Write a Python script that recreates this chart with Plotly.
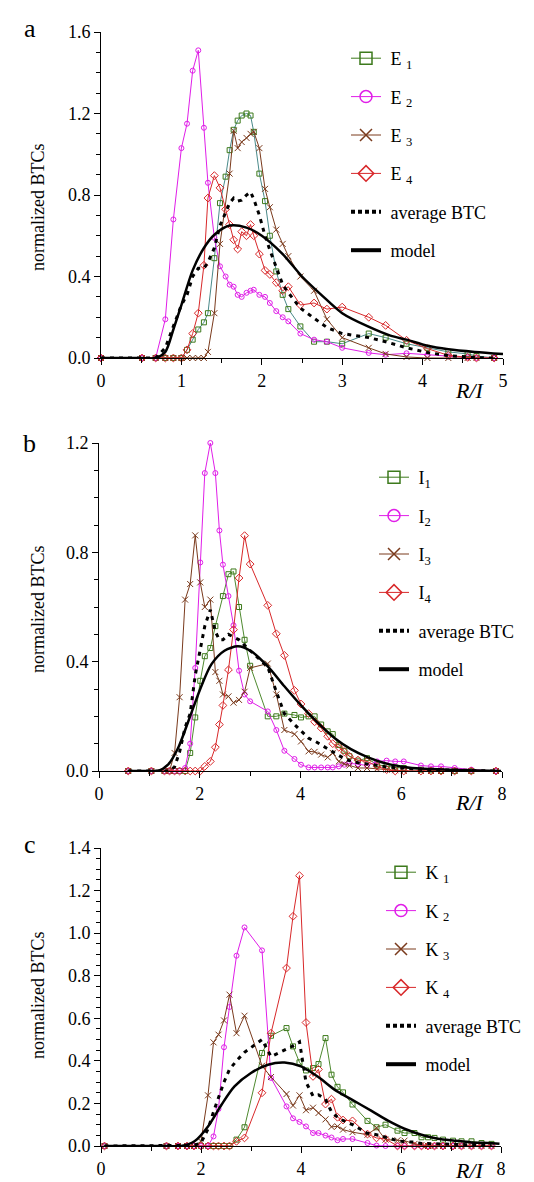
import plotly.graph_objects as go

W, H = 534, 1182
FONT = "Liberation Serif, Times New Roman, serif"

# ---------------- panel a ----------------
XA = [0, 0.51, 0.68, 0.80, 0.90, 1.00, 1.07, 1.14, 1.21, 1.28, 1.33, 1.41, 1.48, 1.55, 1.60, 1.65,
      1.70, 1.75, 1.81, 1.86, 1.90, 1.97, 2.04, 2.10, 2.18, 2.26, 2.33, 2.48, 2.65, 2.81, 3.00,
      3.33, 3.54, 3.80, 4.06, 4.32, 4.56, 4.67, 4.89]
E1 = [0, 0, 0, 0, 0, 0, 0.04, 0.09, 0.14, 0.175, 0.22, 0.49, 0.76, 0.89, 1.02, 1.12,
      1.165, 1.19, 1.20, 1.19, 1.11, 0.905, 0.77, 0.60, 0.425, 0.31, 0.24, 0.155, 0.08, 0.08, 0.07,
      0.12, 0.10, 0.07, 0.05, 0.03, 0.02, 0.01, 0]
E2 = [0, 0, 0, 0.19, 0.68, 1.03, 1.15, 1.41, 1.51, 1.13, 0.86, 0.59, 0.45, 0.40, 0.36, 0.35,
      0.31, 0.30, 0.32, 0.33, 0.335, 0.31, 0.30, 0.27, 0.23, 0.20, 0.18, 0.12, 0.09, 0.08, 0.05,
      0.025, 0.016, 0.023, 0.016, 0.008, 0.003, 0, 0]
E3 = [0, 0, 0, 0, 0, 0, 0, 0, 0, 0, 0.03, 0.22, 0.56, None, 0.905, 1.115,
      1.03, 1.06, 1.08, 1.10, 1.11, 1.03, 0.83, 0.74, 0.63, 0.56, 0.50, 0.40, 0.33, 0.19, 0.10,
      0.05, 0.02, 0.005, 0, 0, 0, 0, 0]
E4 = [0, 0, 0, 0, 0, 0, 0.04, 0.12, 0.22, 0.455, 0.785, 0.895, 0.835, 0.73, 0.655, 0.58,
      0.535, 0.62, 0.60, 0.655, 0.60, 0.51, 0.43, 0.41, 0.37, 0.33, 0.35, 0.26, 0.27, 0.24, 0.25,
      0.20, 0.16, 0.087, 0.046, 0.013, 0.003, 0, 0]
AVG_A = [0, 0, 0, 0.05, 0.16, 0.26, 0.31, 0.40, 0.44, 0.44, 0.47, 0.54, 0.65, 0.72, 0.76, 0.785,
         0.77, 0.775, 0.80, 0.815, 0.78, 0.70, 0.60, 0.53, 0.44, 0.36, 0.32, 0.245, 0.195, 0.15, 0.12,
         0.10, 0.08, 0.05, 0.027, 0.012, 0.005, 0.002, 0]
MODEL_A_X = [0, 0.5, 0.68, 0.80, 0.90, 1.0, 1.14, 1.28, 1.41, 1.6, 1.81, 2.0, 2.26, 2.5, 2.74,
             3.0, 3.32, 3.6, 3.8, 4.06, 4.32, 4.65, 5.0]
MODEL_A = [0, 0, 0, 0.03, 0.14, 0.26, 0.43, 0.54, 0.605, 0.65, 0.64, 0.60, 0.51, 0.40, 0.31,
           0.22, 0.155, 0.11, 0.09, 0.06, 0.043, 0.03, 0.02]

# ---------------- panel b ----------------
XB = [0.58, 1.04, 1.30, 1.40, 1.50, 1.60, 1.71, 1.81, 1.91, 2.01, 2.10, 2.21, 2.31, 2.39, 2.46,
      2.57, 2.67, 2.78, 2.89, 3.00, 3.35, 3.52, 3.68, 3.88, 4.01, 4.16, 4.28, 4.41, 4.54, 4.64,
      4.76, 4.87, 4.97, 5.14, 5.32, 5.52, 5.71, 5.88, 6.05, 6.39, 6.59, 6.79, 7.06, 7.39, 7.88]
I1 = [0, 0, 0, 0, 0, 0, 0, 0.066, 0.196, 0.33, 0.42, 0.45, 0.53, None, 0.64,
      0.72, 0.73, 0.60, 0.48, 0.385, 0.20, 0.20, 0.21, 0.205, 0.196, 0.20, 0.20, 0.17, 0.145, 0.135,
      0.095, 0.074, 0.054, 0.038, 0.047, 0.023, 0.017, 0.013, 0.011, 0.005, 0.002, 0, 0, 0, 0]
I2 = [0, 0, 0, 0, 0, 0, 0.011, 0.10, 0.377, 0.763, 1.09, 1.20, 1.09, 0.88, 0.755,
      0.64, 0.533, 0.367, 0.28, 0.255, 0.218, 0.15, 0.074, 0.044, 0.023, 0.013, 0.013, 0.013, 0.013, 0.013,
      0.017, 0.023, 0.028, 0.025, 0.02, 0.035, 0.038, 0.035, 0.035, 0.02, 0.017, 0.017, 0.011, 0.005, 0]
I3 = [0, 0, 0, 0, 0.066, 0.27, 0.627, 0.684, 0.862, 0.69, 0.60, 0.627, 0.362, 0.33, 0.28,
      0.273, 0.25, 0.26, 0.29, 0.377, 0.393, 0.28, 0.15, 0.135, 0.108, 0.072, 0.07, 0.06, 0.05, 0.066,
      0.035, 0.026, 0.02, 0.011, 0.011, 0.008, 0.005, 0.003, 0, 0, 0, 0, 0, 0, 0]
I4 = [0, 0, 0, 0, 0, 0, 0, 0, 0, 0, 0.017, 0.035, 0.087, 0.17, 0.24,
      0.37, 0.517, 0.706, 0.861, 0.757, 0.606, 0.502, 0.423, 0.295, 0.245, 0.21, 0.18, 0.157, 0.127, 0.10,
      0.087, 0.07, 0.054, 0.04, 0.035, 0.017, 0.005, 0, 0, 0, 0, 0, 0, 0, 0]
AVG_B = [0, 0, 0, 0, 0.015, 0.07, 0.16, 0.21, 0.35, 0.45, 0.53, 0.59, 0.51, 0.48, 0.48,
         0.50, 0.49, 0.48, 0.46, 0.44, 0.38, 0.29, 0.21, 0.17, 0.145, 0.12, 0.11, 0.095, 0.08, 0.07,
         0.055, 0.045, 0.038, 0.03, 0.026, 0.02, 0.015, 0.012, 0.011, 0.006, 0.005, 0.004, 0.003, 0.001, 0]
MODEL_B_X = [0.58, 1.04, 1.17, 1.37, 1.57, 1.77, 2.01, 2.23, 2.49, 2.76, 3.02, 3.35, 3.68, 4.01,
             4.35, 4.68, 5.0, 5.34, 5.73, 6.06, 6.39, 7.06, 7.98]
MODEL_B = [0, 0, 0, 0.023, 0.084, 0.18, 0.30, 0.39, 0.44, 0.456, 0.438, 0.383, 0.31, 0.24,
           0.175, 0.12, 0.08, 0.05, 0.026, 0.015, 0.009, 0.004, 0]

# ---------------- panel c ----------------
XC = [0.07, 1.31, 1.54, 1.72, 1.86, 2.00, 2.14, 2.25, 2.35, 2.46, 2.57, 2.71, 2.87, 3.22, 3.40,
      3.71, 3.84, 3.97, 4.10, 4.24, 4.35, 4.49, 4.61, 4.73, 4.84, 5.03, 5.33, 5.51, 5.69, 5.93,
      6.07, 6.27, 6.41, 6.54, 6.67, 6.84, 7.04, 7.21, 7.41, 7.61, 7.81]
K1 = [0, 0, 0, 0, 0, 0, 0, 0, 0, 0, 0, 0.03, 0.088, 0.437, 0.518,
      0.554, 0.468, 0.393, 0.355, 0.366, 0.385, 0.507, 0.335, 0.278, 0.252, 0.195, 0.118, 0.088, 0.10, 0.072,
      0.061, 0.061, 0.041, 0.041, 0.038, 0.03, 0.025, 0.022, 0.022, 0.014, 0.01]
K2 = [0, 0, 0, 0, 0, 0, 0, 0.045, 0.174, 0.464, 0.653, 0.894, 1.027, 0.919, 0.32,
      0.186, 0.13, 0.113, 0.092, 0.061, 0.061, 0.049, 0.04, 0.027, 0.033, 0.033, 0.014, 0.002, 0, 0,
      0, 0, 0, 0, 0, 0, 0, 0, 0, 0, 0]
K3 = [0, 0, 0, 0, 0, 0.022, 0.238, 0.487, 0.523, 0.59, 0.711, 0.53, 0.612, 0.377, 0.324,
      0.244, 0.19, 0.238, 0.168, 0.18, 0.155, 0.125, 0.09, 0.092, 0.077, 0.065, 0.053, 0.085, 0.03, 0.027,
      0.025, 0.01, 0.005, 0, 0, 0, 0, 0, 0, 0, 0]
K4 = [0, 0, 0, 0, 0, 0, 0, 0, 0, 0, 0, 0.022, 0.038, 0.25, 0.53,
      0.836, 1.079, 1.27, 0.58, 0.327, 0.36, 0.197, 0.22, 0.135, 0.122, 0.118, 0.056, 0.038, 0.033, 0,
      0, 0, 0, 0, 0, 0, 0, 0, 0, 0, 0]
AVG_C = [0, 0, 0, 0, 0.003, 0.015, 0.08, 0.16, 0.23, 0.30, 0.36, 0.40, 0.44, 0.50, 0.42,
         0.455, 0.47, 0.49, 0.30, 0.235, 0.24, 0.22, 0.16, 0.135, 0.12, 0.10, 0.06, 0.053, 0.04, 0.025,
         0.02, 0.018, 0.012, 0.011, 0.01, 0.008, 0.006, 0.005, 0.005, 0.004, 0.003]
MODEL_C_X = [0.07, 1.31, 1.6, 1.87, 2.14, 2.41, 2.67, 3.0, 3.34, 3.67, 4.0, 4.34, 4.67, 5.0,
             5.41, 5.74, 6.07, 6.41, 6.74, 7.07, 7.41, 7.74, 7.97]
MODEL_C = [0, 0, 0, 0.022, 0.092, 0.194, 0.28, 0.343, 0.382, 0.392, 0.374, 0.325, 0.265, 0.22,
           0.165, 0.119, 0.081, 0.053, 0.034, 0.025, 0.017, 0.014, 0.011]

# ---------------- styles ----------------
GREEN = "#3d7a1c"
GREEN_LINE_A = "#4a8a8a"
GREEN_LINE = "#4f8a30"
MAGENTA = "#e01ee8"
BROWN = "#7a3a1c"
RED = "#d8282a"

SERIES_STYLE = [
    dict(color=GREEN, symbol="square-open", size=5),
    dict(color=MAGENTA, symbol="circle-open", size=5),
    dict(color=BROWN, symbol="x-thin-open", size=6),
    dict(color=RED, symbol="diamond-open", size=6),
]

PANELS = [
    dict(tag="a", ax="", x=XA, ys=[E1, E2, E3, E4], avg=AVG_A, mx=MODEL_A_X, my=MODEL_A,
         names=["E <sub>1</sub>", "E <sub>2</sub>", "E <sub>3</sub>", "E <sub>4</sub>"],
         xr=[0, 5], xd=1, xm=0.5, yr=[0, 1.6], yd=0.4, ym=0.1,
         top=24, bottom=350, left=93, right=495, leg_x=338, leg_y=32, lbl_y=20, yt_y=200,
         rl_y=382, line0=GREEN_LINE_A),
    dict(tag="b", ax="2", x=XB, ys=[I1, I2, I3, I4], avg=AVG_B, mx=MODEL_B_X, my=MODEL_B,
         names=["I<sub>1</sub>", "I<sub>2</sub>", "I<sub>3</sub>", "I<sub>4</sub>"],
         xr=[0, 8], xd=2, xm=1, yr=[0, 1.2], yd=0.4, ym=0.1,
         top=435, bottom=763, left=91, right=494, leg_x=366, leg_y=451, lbl_y=436, yt_y=602,
         rl_y=794, line0=GREEN_LINE),
    dict(tag="c", ax="3", x=XC, ys=[K1, K2, K3, K4], avg=AVG_C, mx=MODEL_C_X, my=MODEL_C,
         names=["K <sub>1</sub>", "K <sub>2</sub>", "K <sub>3</sub>", "K <sub>4</sub>"],
         xr=[0, 8], xd=2, xm=1, yr=[0, 1.4], yd=0.2, ym=0.05,
         top=840, bottom=1138, left=93, right=493, leg_x=373, leg_y=846, lbl_y=836, yt_y=988,
         rl_y=1162, line0=GREEN_LINE),
]

fig = go.Figure()
layout = dict(
    width=W, height=H, margin=dict(l=0, r=0, t=0, b=0, autoexpand=False),
    paper_bgcolor="white", plot_bgcolor="white",
    font=dict(family=FONT, size=18, color="black"),
    showlegend=True, annotations=[],
)

for i, p in enumerate(PANELS):
    xa = "x" + p["ax"]
    ya = "y" + p["ax"]
    leg = "legend" + p["ax"]
    # legend-only entries (same styles as the data, larger symbols)
    for k in range(4):
        st = SERIES_STYLE[k]
        fig.add_trace(go.Scatter(
            x=[None], y=[None], xaxis=xa, yaxis=ya, mode="lines+markers",
            name=" " + p["names"][k], legend=leg, legendgroup=f"{p['tag']}{k}", legendrank=k + 1,
            line=dict(color=st["color"], width=1),
            marker=dict(symbol=st["symbol"], size=12, color=st["color"],
                        line=dict(color=st["color"], width=1.5)),
        ))
    fig.add_trace(go.Scatter(
        x=[None], y=[None], xaxis=xa, yaxis=ya, mode="lines", name=" average BTC",
        legend=leg, legendgroup=f"{p['tag']}avg", legendrank=5,
        line=dict(color="black", width=4, dash="4px,3px")))
    fig.add_trace(go.Scatter(
        x=[None], y=[None], xaxis=xa, yaxis=ya, mode="lines", name=" model",
        legend=leg, legendgroup=f"{p['tag']}mod", legendrank=6,
        line=dict(color="black", width=4)))

    # data
    for k in range(4):
        st = SERIES_STYLE[k]
        lc = p["line0"] if k == 0 else st["color"]
        fig.add_trace(go.Scatter(
            x=p["x"], y=p["ys"][k], xaxis=xa, yaxis=ya, mode="lines+markers",
            showlegend=False, connectgaps=True, cliponaxis=False,
            line=dict(color=lc, width=1),
            marker=dict(symbol=st["symbol"], size=st["size"], color=st["color"],
                        line=dict(color=st["color"], width=1)),
        ))
    fig.add_trace(go.Scatter(
        x=p["x"], y=p["avg"], xaxis=xa, yaxis=ya, mode="lines", showlegend=False,
        line=dict(color="black", width=3, dash="4px,5px")))
    fig.add_trace(go.Scatter(
        x=p["mx"], y=p["my"], xaxis=xa, yaxis=ya, mode="lines", showlegend=False,
        line=dict(color="black", width=2.5, shape="spline", smoothing=0.8)))

    axis_common = dict(showline=True, linecolor="black", linewidth=1, ticks="outside",
                       tickcolor="black", ticklen=6, tickwidth=1, showgrid=False,
                       zeroline=False, automargin=False, tickfont=dict(family=FONT, size=18))
    layout["xaxis" + p["ax"]] = dict(
        axis_common, domain=[p["left"] / W, p["right"] / W], range=p["xr"], dtick=p["xd"],
        tick0=0, anchor=ya,
        minor=dict(dtick=p["xm"], ticks="outside", ticklen=4, tickcolor="black"))
    layout["yaxis" + p["ax"]] = dict(
        axis_common, domain=[1 - p["bottom"] / H, 1 - p["top"] / H], range=p["yr"],
        dtick=p["yd"], tick0=0, tickformat=".1f", anchor=xa,
        minor=dict(dtick=p["ym"], ticks="outside", ticklen=4, tickcolor="black"))
    layout[leg] = dict(
        x=p["leg_x"] / W, y=1 - p["leg_y"] / H, xanchor="left", yanchor="top",
        bgcolor="rgba(0,0,0,0)", borderwidth=0, traceorder="grouped", tracegroupgap=12,
        font=dict(family=FONT, size=18), itemsizing="trace")

    layout["annotations"] += [
        dict(text=p["tag"], x=22 / W, y=1 - p["lbl_y"] / H, xref="paper", yref="paper",
             showarrow=False, font=dict(family=FONT, size=26), xanchor="center", yanchor="middle"),
        dict(text="normalized BTCs", x=30 / W, y=1 - p["yt_y"] / H, xref="paper", yref="paper",
             showarrow=False, textangle=-90, font=dict(family=FONT, size=18),
             xanchor="center", yanchor="middle"),
        dict(text="<i>R/I</i>", x=462 / W, y=1 - p["rl_y"] / H, xref="paper",
             yref="paper", showarrow=False, font=dict(family=FONT, size=22),
             xanchor="center", yanchor="middle"),
    ]

fig.update_layout(**layout)
fig.write_html("out.html")
